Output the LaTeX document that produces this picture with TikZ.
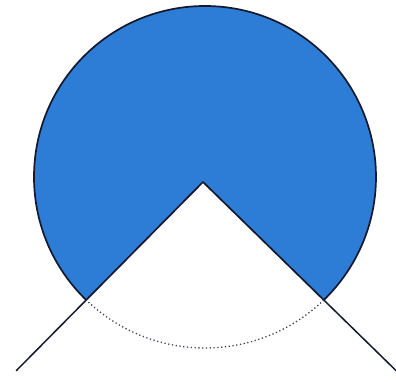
\documentclass[tikz,border=0pt]{standalone}
\usetikzlibrary{calc}
\definecolor{discblue}{RGB}{45,125,215}
\definecolor{edge}{RGB}{20,25,45}
\begin{document}
\begin{tikzpicture}[x=1pt,y=1pt,
  outline/.style={draw=edge,line width=1.7pt,line join=round},
  guide/.style={draw=edge,line width=1.5pt},
  dotarc/.style={draw=edge!85,line width=1.3pt,dash pattern=on 1.2pt off 2.6pt}]
\useasboundingbox (0,0) rectangle (396,382);
\coordinate (C) at (205,205);
\coordinate (A) at (203,200);
\coordinate (L) at ($(C)+(226:171)$);
\coordinate (R) at ($(C)+(-46:171)$);
\path[fill=discblue,outline] (L) arc[start angle=226,end angle=-46,radius=171] -- (A) -- cycle;
\draw[guide] (L) -- ($(A)!1.6!(L)$);
\draw[guide] (R) -- ($(A)!1.6!(R)$);
\draw[dotarc] (R) arc[start angle=-46,end angle=-134,radius=171];
\end{tikzpicture}
\end{document}
